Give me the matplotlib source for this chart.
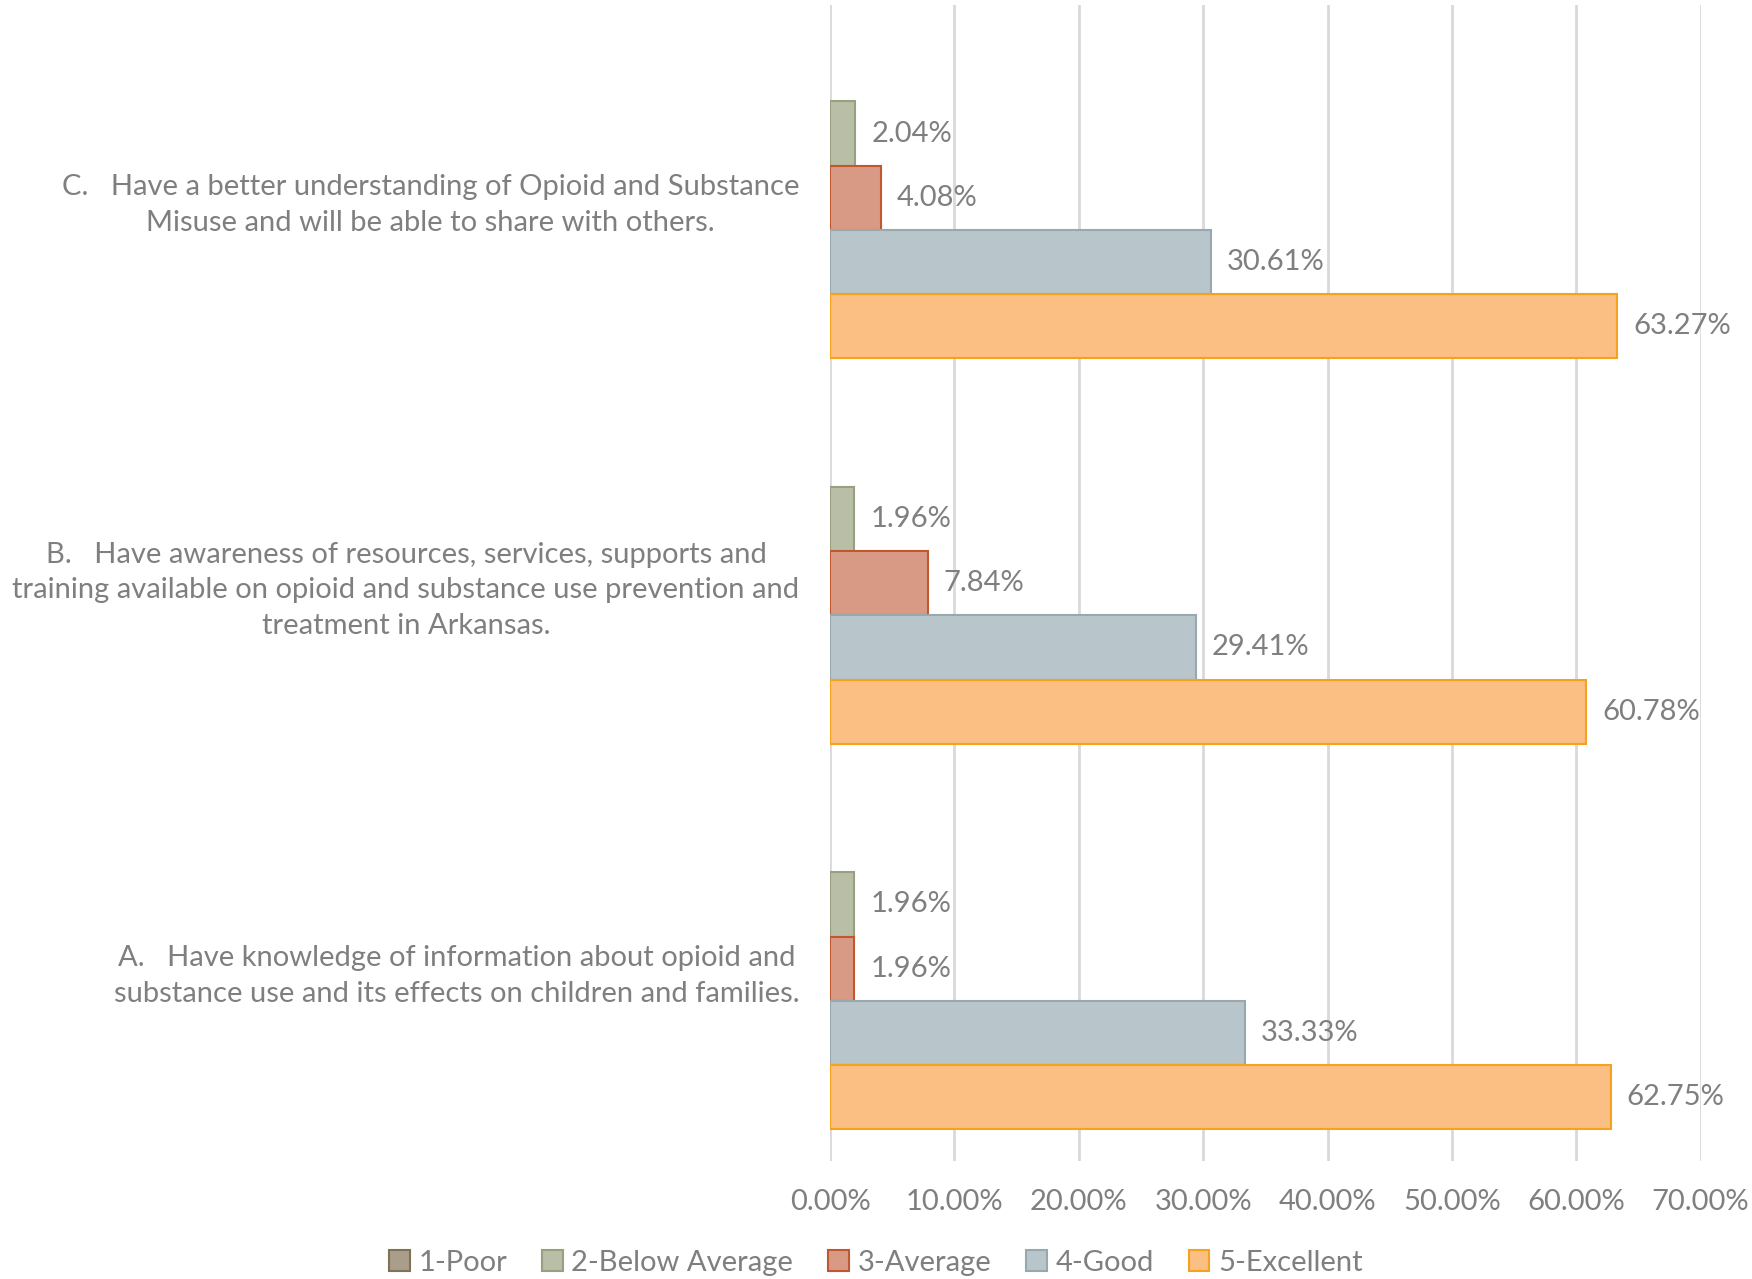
import numpy as np
import matplotlib
matplotlib.use('Agg')
from matplotlib import pyplot as plt
from matplotlib.patches import Patch
from matplotlib.ticker import FuncFormatter

plt.rcParams['font.family'] = ['Lato', 'DejaVu Sans']

#survey items, bottom to top as drawn
questions = [
    'A.   Have knowledge of information about opioid and\nsubstance use and its effects on children and families.',
    'B.   Have awareness of resources, services, supports and\ntraining available on opioid and substance use prevention and\ntreatment in Arkansas.',
    'C.   Have a better understanding of Opioid and Substance\nMisuse and will be able to share with others.',
]
ratings = ['1-Poor', '2-Below Average', '3-Average', '4-Good', '5-Excellent']

#percent of responses per rating (A, B, C)
poor = [0.0, 0.0, 0.0]
below_avg = [1.96, 1.96, 2.04]
average = [1.96, 7.84, 4.08]
good = [33.33, 29.41, 30.61]
excellent = [62.75, 60.78, 63.27]

series = [poor, below_avg, average, good, excellent]
fills = ['#a99e8a', '#b9bfa6', '#d99a85', '#b8c5ca', '#fbbe83']
edges = ['#7f7259', '#98a084', '#c0582f', '#97a9ae', '#f5a21f']
grey = '#7f7f7f'

fig = plt.figure(figsize=(17.52, 12.79), dpi=100)
ax = fig.add_axes([0.4738, 0.092, 0.4969, 0.904])

y = np.arange(len(questions))
h = 1 / 6
for i, vals in enumerate(series):
    pos = y + (2 - i) * h
    lw = [1.5 if v > 0 else 0 for v in vals]
    ax.barh(pos, vals, height=h, color=fills[i], edgecolor=edges[i], linewidth=lw, zorder=3)
    for yy, v in zip(pos, vals):
        if v > 0:
            ax.text(v + 1.3, yy, '%.2f%%' % v, va='center', ha='left', fontsize=21, color=grey)

ax.set_xlim(0, 70)
ax.set_ylim(-0.5, 2.5)
ax.set_xticks(np.arange(0, 71, 10))
ax.xaxis.set_major_formatter(FuncFormatter(lambda x, p: '%.2f%%' % x))
ax.set_yticks(y)
ax.set_yticklabels(questions, fontsize=21, color=grey, multialignment='center', linespacing=1.45)
ax.tick_params(axis='y', length=0, pad=22)
ax.tick_params(axis='x', length=0, pad=20, labelsize=21, labelcolor=grey)
ax.grid(axis='x', color='#d9d9d9', linewidth=2, zorder=0)
for s in ax.spines.values():
    s.set_visible(False)

handles = [Patch(facecolor=fills[i], edgecolor=edges[i], linewidth=1.5) for i in range(5)]
fig.legend(handles, ratings, loc='lower center', bbox_to_anchor=(0.5, -0.018), ncol=5, frameon=False,
           fontsize=21, labelcolor=grey, handlelength=0.7, handleheight=0.7, handletextpad=0.3,
           columnspacing=1.2)

plt.savefig('out.png', dpi=100)
